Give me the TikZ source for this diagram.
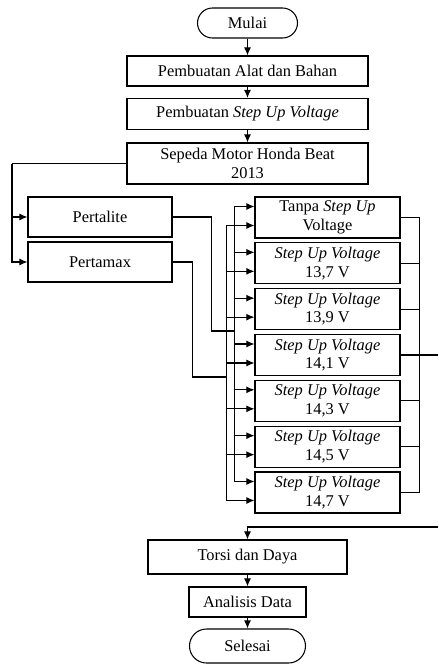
\documentclass[tikz,border=0pt]{standalone}
\usepackage{fontspec}
\setmainfont{Liberation Serif}
\usetikzlibrary{arrows.meta}

\begin{document}
\begin{tikzpicture}[x=0.03cm,y=-0.03cm,line width=0.9pt,
  box/.style={draw,align=center,inner sep=1pt,font=\fontsize{14}{16}\selectfont},
  term/.style={box,rounded corners=0.45cm},
  arr/.style={-{Latex[length=7pt,width=6pt]}}]

  \useasboundingbox (0,0) rectangle (438,664);

  \node[term,minimum width=3cm,minimum height=0.9cm] (mulai) at (247.5,23) {Mulai};
  \node[box,minimum width=7.23cm,minimum height=0.9cm] (alat) at (247.5,71) {Pembuatan Alat dan Bahan};
  \node[box,minimum width=7.23cm,minimum height=0.93cm] (stepup) at (247.5,114) {Pembuatan \textit{Step Up Voltage}};
  \node[box,minimum width=7.23cm,minimum height=1.23cm] (motor) at (247.5,163.5) {Sepeda Motor Honda Beat\\2013};

  \node[box,minimum width=4.32cm,minimum height=1.2cm] (pertalite) at (100,217) {Pertalite};
  \node[box,minimum width=4.32cm,minimum height=1.2cm] (pertamax) at (100,262) {Pertamax};

  \foreach \i/\t in {0/{Tanpa \textit{Step Up}\\Voltage},
                     1/{\textit{Step Up Voltage}\\13,7 V},
                     2/{\textit{Step Up Voltage}\\13,9 V},
                     3/{\textit{Step Up Voltage}\\14,1 V},
                     4/{\textit{Step Up Voltage}\\14,3 V},
                     5/{\textit{Step Up Voltage}\\14,5 V},
                     6/{\textit{Step Up Voltage}\\14,7 V}} {
    \node[box,minimum width=4.35cm,minimum height=1.23cm] (v\i) at (327.5,{217.5+45.83*\i}) {\t};
    \path (v\i.west) ++(-20,-11) coordinate (a\i);
    \path (v\i.west) ++(-28,8) coordinate (b\i);
    \path (v\i.east) ++(19,0) coordinate (c\i);
    \draw[arr] (a\i) -- (a\i -| v\i.west);
    \draw[arr] (b\i) -- (b\i -| v\i.west);
    \draw (v\i.east) -- (c\i);
  }

  \node[box,minimum width=5.97cm,minimum height=1.02cm] (torsi) at (247.5,557) {Torsi dan Daya};
  \node[box,minimum width=3.51cm,minimum height=0.9cm] (analisis) at (247.5,602) {Analisis Data};
  \node[term,rounded corners=0.51cm,minimum width=3.48cm,minimum height=1.02cm] (selesai) at (247.5,646) {Selesai};

  \coordinate (lb) at (12,163.5);
  \coordinate (jl) at (235,331);
  \coordinate (jm) at (227,377);
  \coordinate (out) at (438,527);

  \draw[arr] (mulai) -- (alat);
  \draw[arr] (alat) -- (stepup);
  \draw[arr] (stepup) -- (motor);

  \draw (motor.west) -- (lb);
  \draw[arr] (lb) |- (pertalite.west);
  \draw[arr] (lb) |- (pertamax.west);

  \draw (pertalite.east) -- ++(39,0) |- (jl);
  \draw (pertamax.east) -- ++(20,0) |- (jm);

  \draw (a0) -- (a6);
  \draw (b0) -- (b6);
  \draw (c0) -- (c6);
  \draw (c3) -- (c3 -| out);

  \draw[arr] (out) -| (torsi.north);
  \draw[arr] (torsi) -- (analisis);
  \draw[arr] (analisis) -- (selesai);
\end{tikzpicture}
\end{document}
